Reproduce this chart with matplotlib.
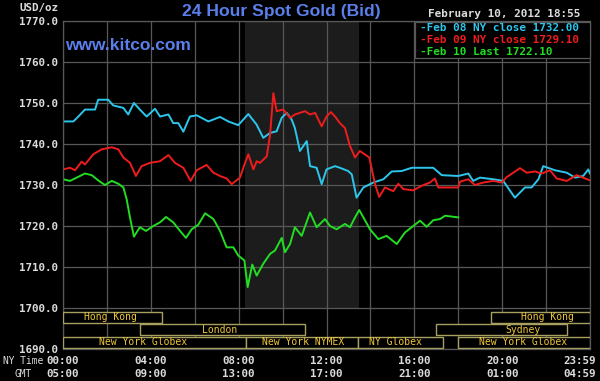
import matplotlib
matplotlib.use("Agg")
import matplotlib.pyplot as plt
from matplotlib.patches import Rectangle
from matplotlib import transforms

########################## DATA
# hours since 00:00 NY time, price in USD/oz
cyan_h = [0, 0.47, 0.7, 1.0, 1.46, 1.6, 2.06, 2.29, 2.75, 2.97, 3.23, 3.5, 3.81, 4.19, 4.42,
          4.8, 5.02, 5.25, 5.48, 5.78, 6.09, 6.62, 7.15, 7.53, 7.98, 8.44, 8.82, 9.12, 9.43, 9.73,
          9.96, 10.19, 10.41, 10.56, 10.79, 11.1, 11.25, 11.55, 11.78, 12.0, 12.39, 12.61, 12.99,
          13.15, 13.37, 13.68, 14.13, 14.59, 14.97, 15.42, 15.88, 16.86, 17.25, 18.0, 18.46, 18.68,
          18.99, 19.6, 20.05, 20.58, 21.04, 21.34, 21.65, 21.87, 22.4, 22.94, 23.32, 23.69, 23.92, 24.0]
cyan_v = [1745.5, 1745.5, 1746.7, 1748.4, 1748.4, 1750.8, 1750.8, 1749.4, 1748.8, 1747.2, 1750.0,
          1748.4, 1746.7, 1748.6, 1746.7, 1747.2, 1745.1, 1745.1, 1743.0, 1746.7, 1747.0, 1745.5,
          1746.6, 1745.5, 1744.6, 1747.3, 1744.7, 1741.5, 1742.7, 1743.1, 1746.4, 1747.6, 1746.0,
          1743.9, 1738.3, 1740.7, 1734.6, 1734.2, 1730.2, 1733.8, 1734.6, 1734.2, 1733.4, 1732.6,
          1726.9, 1729.4, 1730.6, 1731.4, 1733.3, 1733.4, 1734.2, 1734.2, 1732.4, 1732.2, 1732.8,
          1731.0, 1731.8, 1731.4, 1731.0, 1726.9, 1729.4, 1729.4, 1731.4, 1734.6, 1733.6, 1733.0,
          1731.8, 1732.2, 1733.8, 1732.8]

red_h = [0, 0.32, 0.55, 0.85, 1.0, 1.38, 1.76, 2.22, 2.52, 2.75, 3.05, 3.32, 3.58, 3.96, 4.42,
         4.8, 5.1, 5.48, 5.81, 6.09, 6.54, 6.85, 7.15, 7.45, 7.68, 8.06, 8.29, 8.44, 8.67, 8.82,
         8.97, 9.28, 9.43, 9.58, 9.73, 10.03, 10.34, 10.56, 11.02, 11.25, 11.48, 11.78, 12.0, 12.2,
         12.39, 12.61, 12.84, 13.07, 13.3, 13.52, 13.95, 14.21, 14.4, 14.66, 15.04, 15.27, 15.5,
         15.95, 16.33, 16.71, 16.94, 17.09, 18.0, 18.08, 18.46, 18.76, 19.14, 19.6, 19.98, 20.2,
         20.81, 21.12, 21.49, 21.8, 22.18, 22.48, 22.94, 23.39, 23.69, 24.0]
red_v = [1733.8, 1734.2, 1733.6, 1735.7, 1735.0, 1737.5, 1738.7, 1739.2, 1738.7, 1736.7, 1735.4,
         1732.2, 1734.6, 1735.4, 1735.8, 1737.3, 1735.4, 1734.2, 1731.0, 1733.6, 1734.9, 1733.0,
         1732.2, 1731.6, 1730.2, 1731.8, 1735.4, 1737.5, 1733.8, 1735.8, 1735.4, 1737.0, 1742.3,
         1752.4, 1748.0, 1748.4, 1746.4, 1747.2, 1748.0, 1747.2, 1747.6, 1744.3, 1746.7, 1747.8,
         1746.7, 1745.1, 1743.9, 1739.5, 1736.7, 1738.3, 1736.7, 1730.2, 1727.1, 1729.4, 1728.5,
         1730.3, 1729.0, 1728.7, 1729.8, 1730.6, 1731.6, 1729.4, 1729.4, 1730.8, 1731.4, 1730.0,
         1730.6, 1731.0, 1730.6, 1731.9, 1734.1, 1733.0, 1733.3, 1732.8, 1733.6, 1731.6, 1731.0,
         1732.4, 1731.8, 1731.1]

green_h = [0, 0.32, 0.62, 1.0, 1.31, 1.61, 1.91, 2.22, 2.52, 2.75, 2.9, 3.05, 3.23, 3.5, 3.78,
           4.11, 4.42, 4.69, 5.02, 5.33, 5.6, 5.86, 6.16, 6.47, 6.85, 7.15, 7.45, 7.76, 7.98, 8.26,
           8.41, 8.62, 8.82, 9.12, 9.43, 9.65, 9.96, 10.11, 10.34, 10.56, 10.87, 11.25, 11.55, 11.93,
           12.16, 12.46, 12.84, 13.07, 13.3, 13.49, 13.68, 13.98, 14.36, 14.74, 15.2, 15.57, 15.95,
           16.26, 16.56, 16.86, 17.17, 17.4, 18.0]
green_v = [1731.4, 1731.0, 1731.8, 1732.8, 1732.4, 1731.1, 1730.0, 1731.0, 1730.3, 1729.4, 1726.5,
           1722.1, 1717.4, 1719.7, 1718.8, 1720.0, 1720.9, 1722.2, 1720.9, 1718.8, 1717.1, 1719.2,
           1720.3, 1723.1, 1721.7, 1718.8, 1714.8, 1714.8, 1712.8, 1711.6, 1705.1, 1710.6, 1707.9,
           1710.8, 1713.2, 1714.0, 1717.1, 1713.6, 1715.6, 1719.7, 1717.6, 1723.3, 1719.7, 1721.7,
           1720.0, 1719.2, 1720.5, 1719.7, 1722.1, 1723.9, 1722.1, 1719.2, 1716.8, 1717.6, 1715.6,
           1718.4, 1720.0, 1721.3, 1719.8, 1721.4, 1721.7, 1722.5, 1722.1]

legend_labels = ["-Feb 08 NY close 1732.00", "-Feb 09 NY close 1729.10", "-Feb 10 Last 1722.10"]
yticks = [1690, 1700, 1710, 1720, 1730, 1740, 1750, 1760, 1770]
ny_ticks = [0, 4, 8, 12, 16, 20, 24]
ny_labels = ["00:00", "04:00", "08:00", "12:00", "16:00", "20:00", "23:59"]
gmt_labels = ["05:00", "09:00", "13:00", "17:00", "21:00", "01:00", "04:59"]

# trading sessions: (row, start hour, end hour, label, label hour)
sessions = [
    (0, 0.0, 4.5, "Hong Kong", 2.14),
    (0, 19.5, 24.0, "Hong Kong", 22.04),
    (1, 3.5, 11.0, "London", 7.15),
    (1, 17.0, 22.95, "Sydney", 20.95),
    (2, 0.0, 8.33, "New York Globex", 3.64),
    (2, 8.33, 13.45, "New York NYMEX", 10.93),
    (2, 13.45, 17.3, "NY Globex", 15.16),
    (2, 18.0, 24.0, "New York Globex", 20.97),
]
nymex_open, nymex_close = 8.3, 13.5

########################## STYLE
BLUE = "#5a7fea"
GRID = "#585858"
TXT = "#dcdcdc"
SESS_EDGE = "#a8a060"
SESS_TXT = "#f0c838"
colors = ["#2cc6ec", "#ee1c1c", "#22dd22"]
MONO = "DejaVu Sans Mono"

fig = plt.figure(figsize=(6, 3.81), dpi=100, facecolor="black")
ax = fig.add_axes([63/600, 32/381, 527/600, 328/381], facecolor="black")
ax.set_xlim(0, 24)
ax.set_ylim(1690, 1770)

# NYMEX open hours shading
ax.add_patch(Rectangle((nymex_open, 1700), nymex_close - nymex_open, 70,
                       facecolor="#1c1c1c", edgecolor="none", zorder=0))

ax.set_xticks(range(0, 25, 2))
ax.set_xticklabels([])
ax.set_yticks(yticks)
ax.set_yticklabels(["%.1f" % v for v in yticks], family=MONO, weight="bold",
                   fontsize=7.8, color=TXT)
ax.tick_params(length=0, pad=3.5)
ax.grid(True, color=GRID, linewidth=0.9)
ax.set_axisbelow(True)
for s in ax.spines.values():
    s.set_color(GRID)
    s.set_linewidth(0.9)

for h, v, c in zip([cyan_h, red_h, green_h], [cyan_v, red_v, green_v], colors):
    ax.plot(h, v, color=c, linewidth=1.4, zorder=2)

# session boxes
row_bottoms = [1696.3, 1693.3, 1690.2]
for row, h0, h1, lab, hl in sessions:
    y0 = row_bottoms[row]
    ax.add_patch(Rectangle((h0, y0), h1 - h0, 2.8, facecolor="black",
                           edgecolor=SESS_EDGE, linewidth=1.0, zorder=3))
    ax.text(hl, y0 + 1.4, lab, family=MONO, fontsize=7.0, color=SESS_TXT,
            ha="center", va="center", zorder=4)

# legend box, from x=415 to the right spine, y=22..58 px
ax.add_patch(Rectangle((352/527, 291/328), 175/527, 36/328, transform=ax.transAxes,
                       facecolor="black", edgecolor=GRID, linewidth=0.9, zorder=5,
                       clip_on=False))
for i, (lab, c) in enumerate(zip(legend_labels, colors)):
    fig.text(420/600, 1 - (28 + 12*i)/381, lab, family=MONO, weight="bold",
             fontsize=7.9, color=c, ha="left", va="center", zorder=6)

# x labels, NY time and GMT
trans = transforms.blended_transform_factory(ax.transData, fig.transFigure)
for i, (h, a, b) in enumerate(zip(ny_ticks, ny_labels, gmt_labels)):
    ha = "center"
    t = trans
    if i == len(ny_ticks) - 1:
        ha = "right"
        t = transforms.offset_copy(trans, fig=fig, x=6, y=0, units="dots")
    fig.text(h, 1 - 361/381, a, transform=t, family=MONO, weight="bold",
             fontsize=7.8, color=TXT, ha=ha, va="center")
    fig.text(h, 1 - 374/381, b, transform=t, family=MONO, weight="bold",
             fontsize=7.8, color=TXT, ha=ha, va="center")
fig.text(43/600, 1 - 361/381, "NY Time", family=MONO, fontsize=6.9, color=TXT,
         ha="right", va="center")
fig.text(23/600, 1 - 374/381, "GMT", family=MONO, fontsize=6.9, color=TXT,
         ha="center", va="center")

# header texts
fig.text(58/600, 1 - 8/381, "USD/oz", family=MONO, weight="bold", fontsize=7.8,
         color=TXT, ha="right", va="center")
fig.text(281/600, 1 - 11.5/381, "24 Hour Spot Gold (Bid)", family="Liberation Sans",
         weight="bold", fontsize=12.6, color=BLUE, ha="center", va="center")
fig.text(65/600, 1 - 46/381, "www.kitco.com", family="Liberation Sans", weight="bold",
         fontsize=12.5, color=BLUE, ha="left", va="center")
fig.text(580/600, 1 - 14/381, "February 10, 2012 18:55", family=MONO, weight="bold",
         fontsize=7.9, color=TXT, ha="right", va="center")

fig.savefig("out.png", dpi=100, facecolor="black")
